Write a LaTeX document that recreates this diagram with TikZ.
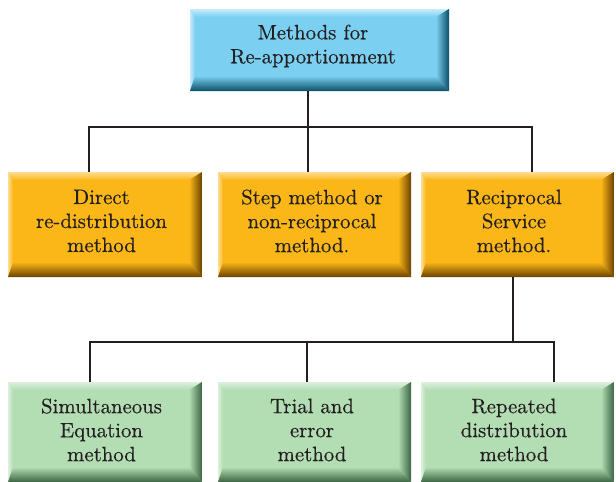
\documentclass[tikz,border=0pt]{standalone}
\usepackage{fontspec}
\newfontfamily\boxfont{lmroman10-regular.otf}[FakeBold=0.35]
\usetikzlibrary{calc}
\definecolor{bluebase}{HTML}{7BCFF1}
\definecolor{bluelight}{HTML}{C6EBFA}
\definecolor{bluedark}{HTML}{0A4E66}
\definecolor{orbase}{HTML}{FBB718}
\definecolor{orlight}{HTML}{FDDC94}
\definecolor{ordark}{HTML}{6B4200}
\definecolor{grbase}{HTML}{B3DDB3}
\definecolor{grlight}{HTML}{DDF0DD}
\definecolor{grdark}{HTML}{3B6442}
\definecolor{textc}{HTML}{231F20}
\definecolor{linec}{HTML}{231F20}
\tikzset{
  bevel/.style n args={3}{fill=#1, inner sep=0pt, path picture={
    \path (path picture bounding box.south west) coordinate (bvsw)
          (path picture bounding box.north east) coordinate (bvne)
          (path picture bounding box.north west) coordinate (bvnw)
          (path picture bounding box.south east) coordinate (bvse);
    \shade[top color=#3, bottom color=#1] (bvnw) -- (bvne) -- ([xshift=-13pt,yshift=-8pt]bvne) -- ([xshift=5pt,yshift=-8pt]bvnw) -- cycle;
    \shade[left color=#3, right color=#1] (bvnw) -- (bvsw) -- ([xshift=5pt,yshift=15pt]bvsw) -- ([xshift=5pt,yshift=-8pt]bvnw) -- cycle;
    \shade[left color=#1, right color=#2] (bvne) -- (bvse) -- ([xshift=-13pt,yshift=15pt]bvse) -- ([xshift=-13pt,yshift=-8pt]bvne) -- cycle;
    \shade[top color=#1, bottom color=#2] (bvsw) -- (bvse) -- ([xshift=-13pt,yshift=15pt]bvse) -- ([xshift=5pt,yshift=15pt]bvsw) -- cycle;
  }},
  bluebox/.style={bevel={bluebase}{bluedark}{bluelight}},
  orbox/.style={bevel={orbase}{ordark}{orlight}},
  grbox/.style={bevel={grbase}{grdark}{grlight}},
  txt/.style={font=\boxfont\fontsize{20.8}{24}\selectfont, align=center, text=textc, inner sep=0pt},
  conn/.style={draw=linec, line width=1.6pt},
}
\begin{document}
\begin{tikzpicture}[x=1pt,y=-1pt]
\useasboundingbox (0,0) rectangle (616,482);
% boxes
\node[bluebox, minimum width=259pt, minimum height=82pt] (T) at (319.5,50) {};
\node[orbox, minimum width=194pt, minimum height=105pt] (A) at (105,224.5) {};
\node[orbox, minimum width=193pt, minimum height=105pt] (B) at (314.5,224.5) {};
\node[orbox, minimum width=193pt, minimum height=105pt] (C) at (517.5,224.5) {};
\node[grbox, minimum width=194pt, minimum height=100pt] (D) at (105,432) {};
\node[grbox, minimum width=193pt, minimum height=100pt] (E) at (314.5,432) {};
\node[grbox, minimum width=193pt, minimum height=100pt] (F) at (517.5,432) {};
% texts
\node[txt] (Tt) at (313,46) {Methods for\\Re-apportionment};
\node[txt] (At) at (101.5,221) {Direct\\re-distribution\\method};
\node[txt] (Bt) at (312,221) {Step method or\\non-reciprocal\\method.};
\node[txt] (Ct) at (514,221) {Reciprocal\\Service\\method.};
\node[txt] (Dt) at (101.5,430) {Simultaneous\\Equation\\method};
\node[txt] (Et) at (312,430) {Trial and\\error\\method};
\node[txt] (Ft) at (514,430) {Repeated\\distribution\\method};
% bus coordinates
\coordinate (a1) at (89,127);
\coordinate (m1) at (308,127);
\coordinate (c1) at (532,127);
\coordinate (b1) at (90,342);
\coordinate (b2) at (307,342);
\coordinate (b3) at (554,342);
\coordinate (r1) at (513,342);
% connectors
\draw[conn] (T.south -| m1) -- (m1 |- B.north);
\draw[conn] (a1 |- A.north) -- (a1) -- (c1) -- (c1 |- C.north);
\draw[conn] (C.south -| r1) -- (r1);
\draw[conn] (b1 |- D.north) -- (b1) -- (b3) -- (b3 |- F.north);
\draw[conn] (b2) -- (b2 |- E.north);
\end{tikzpicture}
\end{document}
